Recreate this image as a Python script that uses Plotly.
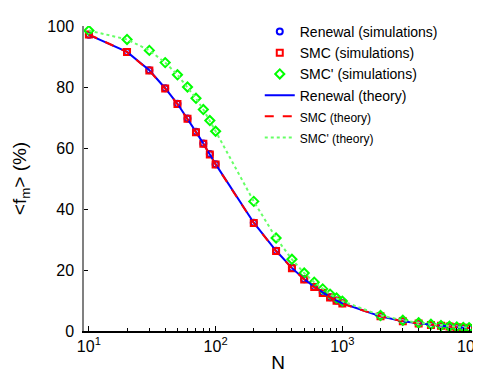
import plotly.graph_objects as go

N = [10, 20, 30, 40, 50, 60, 70, 80, 90, 100, 200, 300, 400, 500, 600, 700, 800, 900,
     1000, 2000, 3000, 4000, 5000, 6000, 7000, 8000, 9000, 10000]
renewal_sim = [97.1, 91.5, 85.5, 79.6, 74.5, 69.7, 65.3, 61.5, 58.0, 54.7, 35.5, 26.3, 20.7,
               17.0, 14.5, 12.6, 11.1, 10.0, 9.1, 4.8, 3.2, 2.5, 2.0, 1.7, 1.45, 1.25, 1.1, 1.0]
smc_sim = [97.2, 91.5, 85.4, 79.5, 74.4, 69.6, 65.2, 61.4, 57.9, 54.6, 35.4, 26.2, 20.6,
           16.9, 14.4, 12.5, 11.0, 9.9, 9.0, 4.8, 3.2, 2.5, 2.0, 1.7, 1.45, 1.25, 1.1, 1.0]
smcp_sim = [98.5, 95.6, 92.0, 88.0, 84.0, 80.0, 76.3, 72.6, 69.0, 65.5, 42.5, 30.5, 23.5,
            19.0, 16.0, 13.8, 12.1, 10.8, 9.8, 5.1, 3.5, 2.7, 2.2, 1.8, 1.55, 1.35, 1.2, 1.1]
renewal_th = renewal_sim
smc_th = smc_sim
smcp_th = smcp_sim

x_tickvals = [10, 100, 1000, 10000]
x_ticktext = ["10<sup>1</sup>", "10<sup>2</sup>", "10<sup>3</sup>", "10<sup>4</sup>"]
x_minor = [20, 30, 40, 50, 60, 70, 80, 90, 200, 300, 400, 500, 600, 700, 800, 900,
           2000, 3000, 4000, 5000, 6000, 7000, 8000, 9000]
y_tickvals = [0, 20, 40, 60, 80, 100]

BLUE = "#0000ff"
RED = "#ff0000"
GREEN = "#00ff00"

fig = go.Figure()
fig.add_trace(go.Scatter(x=N, y=renewal_sim, mode="markers", name="Renewal (simulations)",
                         marker=dict(symbol="circle-open", size=6, color=BLUE, line=dict(width=2))))
fig.add_trace(go.Scatter(x=N, y=smc_sim, mode="markers", name="SMC (simulations)",
                         marker=dict(symbol="square-open", size=6, color=RED, line=dict(width=2))))
fig.add_trace(go.Scatter(x=N, y=smcp_sim, mode="markers", name="SMC' (simulations)",
                         marker=dict(symbol="diamond-open", size=7, color=GREEN, line=dict(width=2))))
fig.add_trace(go.Scatter(x=N, y=renewal_th, mode="lines", name="Renewal (theory)",
                         line=dict(color=BLUE, width=2)))
fig.add_trace(go.Scatter(x=N, y=smc_th, mode="lines",
                         name="<span style='font-size:12px'>SMC (theory)</span>",
                         line=dict(color=RED, width=2, dash="dash")))
fig.add_trace(go.Scatter(x=N, y=smcp_th, mode="lines",
                         name="<span style='font-size:12px'>SMC' (theory)</span>",
                         line=dict(color="#66ff66", width=2, dash="dot")))

fig.update_layout(
    width=481, height=377,
    margin=dict(l=76, r=8, t=10, b=54),
    paper_bgcolor="white", plot_bgcolor="white",
    font=dict(family="Liberation Sans, Arial, sans-serif", size=14, color="black"),
    legend=dict(x=0.453, y=1.033, xanchor="left", yanchor="top",
                bgcolor="rgba(0,0,0,0)", font=dict(size=14), tracegroupgap=0,
                itemwidth=30),
    showlegend=True,
)
fig.update_xaxes(type="log", range=[0.9615, 4.023], tickvals=x_tickvals, ticktext=x_ticktext,
                 ticks="inside", ticklen=5, tickcolor="black", showline=True, linecolor="black",
                 linewidth=1.5, showgrid=False, zeroline=False, ticklabeloverflow="allow",
                 minor=dict(tickvals=x_minor, ticks="inside", ticklen=3, tickcolor="black"),
                 title=dict(text="N", font=dict(size=19), standoff=2),
                 tickfont=dict(size=16))
fig.update_yaxes(range=[0, 100], tickvals=y_tickvals, ticks="inside", ticklen=4,
                 tickcolor="black", showline=True, linecolor="#808080", linewidth=1.5,
                 showgrid=False, zeroline=False, ticklabelstandoff=5,
                 title=dict(text="&lt;f<sub>m</sub>&gt; (%)", font=dict(size=19), standoff=16),
                 tickfont=dict(size=16))

fig.write_html("out.html")
